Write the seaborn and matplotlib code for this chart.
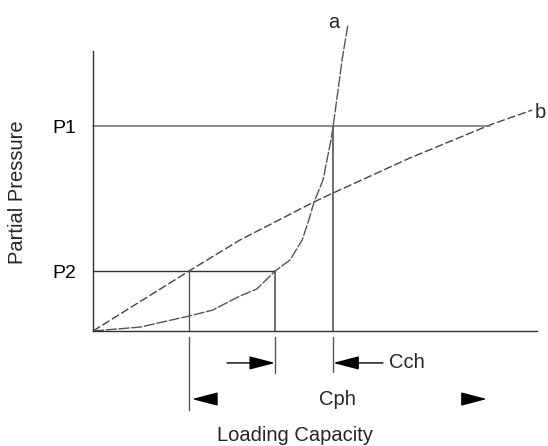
import matplotlib
matplotlib.use("Agg")
import matplotlib.pyplot as plt
import seaborn as sns
import pandas as pd

# ---- data (diagram units, origin at axes corner) ----
curve_a_x = [0.00, 1.06, 2.18, 2.70, 3.31, 3.69, 4.10, 4.44, 4.71, 4.86, 4.98, 5.18, 5.27, 5.36, 5.41, 5.61, 5.74]
curve_a_y = [0.00, 0.14, 0.54, 0.75, 1.25, 1.50, 2.14, 2.54, 3.25, 3.96, 4.61, 5.39, 6.11, 6.82, 7.32, 9.68, 10.93]
curve_b_x = [0.00, 2.16, 3.31, 4.98, 5.41, 7.14, 8.94, 9.89]
curve_b_y = [0.00, 2.14, 3.25, 4.61, 4.93, 6.18, 7.36, 7.89]
curve_labels = ["a", "b"]
pressure_levels = [2.14, 7.32]          # P2, P1
pressure_labels = ["P2", "P1"]
pressure_ends = [4.10, 8.94]            # where the level lines meet the curves
capacity_marks = [2.16, 4.10, 5.41]     # Cph start, Cch-left, Cch-right
axis_len_x = 10.0
axis_len_y = 10.0
x_label = "Loading Capacity"
y_label = "Partial Pressure"

sns.set_theme(style="white")
plt.rcParams["font.family"] = ["Liberation Sans", "DejaVu Sans"]

fig = plt.figure(figsize=(5.48, 4.46), dpi=100)
ax = fig.add_axes([0, 0, 1, 1])
ax.set_xlim(-2.095, 10.248)
ax.set_ylim(-4.107, 11.821)

df_a = pd.DataFrame({"x": curve_a_x, "y": curve_a_y})
df_b = pd.DataFrame({"x": curve_b_x, "y": curve_b_y})
sns.lineplot(data=df_a, x="x", y="y", sort=False, estimator=None, ax=ax,
             color="#555555", lw=1.0, dashes=False, linestyle=(0, (8, 1.2)))
sns.lineplot(data=df_b, x="x", y="y", sort=False, estimator=None, ax=ax,
             color="#444444", lw=1.0, dashes=False, linestyle=(0, (6, 2)))

# axes spines at the origin
for s in ["top", "right"]:
    ax.spines[s].set_visible(False)
ax.spines["left"].set_position(("data", 0))
ax.spines["bottom"].set_position(("data", 0))
ax.spines["left"].set_bounds(0, axis_len_y)
ax.spines["bottom"].set_bounds(0, axis_len_x)
for s in ["left", "bottom"]:
    ax.spines[s].set_color("#333333")
    ax.spines[s].set_linewidth(1.0)
ax.set_xticks([])
ax.set_yticks(pressure_levels, pressure_labels)
ax.tick_params(axis="y", length=0, pad=12, labelsize=14, labelcolor="black")
ax.set_xlabel("")
ax.set_ylabel("")

# pressure level lines
ax.plot([0, pressure_ends[0]], [pressure_levels[0]] * 2, color="#333333", lw=1.0)
ax.plot([0, pressure_ends[1]], [pressure_levels[1]] * 2, color="#777777", lw=1.2)

# vertical lines from curves down to the axis
ax.plot([capacity_marks[0]] * 2, [0, pressure_levels[0]], color="#555555", lw=1.0)
ax.plot([capacity_marks[1]] * 2, [0, pressure_levels[0]], color="#555555", lw=1.2)
ax.plot([capacity_marks[2]] * 2, [0, pressure_levels[1]], color="#555555", lw=1.2)

# dimension lines below the axis
ax.plot([capacity_marks[0]] * 2, [-0.21, -2.82], color="#555555", lw=1.0)
ax.plot([capacity_marks[1]] * 2, [-0.21, -1.50], color="#555555", lw=1.0)
ax.plot([capacity_marks[2]] * 2, [-0.21, -1.46], color="#555555", lw=1.0)

row1, row2 = -1.14, -2.43
style = "-|>,head_length=16,head_width=4.2"
def arrow(x0, x1, y):
    ax.annotate("", xy=(x1, y), xytext=(x0, y),
                arrowprops=dict(arrowstyle=style, mutation_scale=1, color="black",
                                lw=1.0, shrinkA=0, shrinkB=0))

arrow(3.02, capacity_marks[1], row1)
arrow(6.53, capacity_marks[2], row1)
arrow(2.70, 2.23, row2)
arrow(8.42, 8.87, row2)

ax.text(6.67, row1, "Cch", ha="left", va="center", fontsize=14.5)
ax.text(5.50, row2, "Cph", ha="center", va="center", fontsize=14.5)

ax.text(5.43, 10.82, curve_labels[0], ha="center", va="baseline", fontsize=14.5)
ax.text(9.95, 7.82, curve_labels[1], ha="left", va="center", fontsize=14.5)

ax.text(4.54, -3.93, x_label, ha="center", va="baseline", fontsize=14.5)
ax.text(-1.69, 4.96, y_label, ha="center", va="center", rotation=90, fontsize=14.5)

fig.savefig("out.png", dpi=100)
